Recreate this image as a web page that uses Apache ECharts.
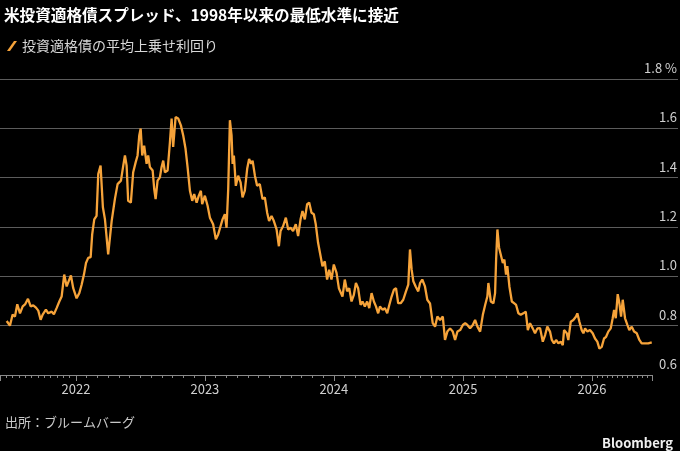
<!DOCTYPE html>
<html>
<head>
<meta charset="utf-8">
<script src="https://cdn.jsdelivr.net/npm/echarts@6/dist/echarts.min.js"></script>
<style>
  html, body { margin: 0; padding: 0; background: #000; }
  #chart { width: 680px; height: 451px; }
</style>
</head>
<body>
<div id="chart"></div>
<script>
// 日付は小数の年 (2022.5 = 2022年の真ん中あたり)
var years = [
  2021.463, 2021.488, 2021.509, 2021.527, 2021.545, 2021.566, 2021.587, 2021.605, 2021.628, 2021.649,
  2021.669, 2021.690, 2021.708, 2021.726, 2021.742, 2021.767, 2021.785, 2021.812, 2021.829, 2021.850,
  2021.871, 2021.889, 2021.909, 2021.928, 2021.940, 2021.961, 2021.979, 2022.005, 2022.026, 2022.044,
  2022.062, 2022.078, 2022.095, 2022.114, 2022.126, 2022.142, 2022.160, 2022.173, 2022.191, 2022.209,
  2022.225, 2022.250, 2022.277, 2022.302, 2022.323, 2022.349, 2022.367, 2022.380, 2022.393, 2022.405,
  2022.426, 2022.444, 2022.463, 2022.478, 2022.491, 2022.502, 2022.514, 2022.529, 2022.548, 2022.560,
  2022.574, 2022.595, 2022.607, 2022.618, 2022.633, 2022.651, 2022.664, 2022.677, 2022.690, 2022.711,
  2022.729, 2022.742, 2022.754, 2022.773, 2022.793, 2022.814, 2022.832, 2022.850, 2022.866, 2022.884,
  2022.902, 2022.917, 2022.936, 2022.953, 2022.969, 2022.979, 2023.000, 2023.021,
  2023.039, 2023.064, 2023.085, 2023.103, 2023.122, 2023.137, 2023.155, 2023.168, 2023.181, 2023.194,
  2023.207, 2023.215, 2023.225, 2023.240, 2023.258, 2023.277, 2023.292, 2023.310, 2023.328, 2023.343,
  2023.359, 2023.370, 2023.388, 2023.405, 2023.426, 2023.447, 2023.465, 2023.483, 2023.498, 2023.517,
  2023.535, 2023.556, 2023.574, 2023.587, 2023.607, 2023.628, 2023.646, 2023.664, 2023.684, 2023.705,
  2023.723, 2023.742, 2023.757, 2023.775, 2023.793, 2023.809, 2023.827, 2023.845, 2023.860, 2023.878,
  2023.891, 2023.912, 2023.930, 2023.948, 2023.964, 2023.982, 2024.000, 2024.021, 2024.039, 2024.054,
  2024.067, 2024.085, 2024.103, 2024.119, 2024.137, 2024.155, 2024.171, 2024.188, 2024.207, 2024.222,
  2024.240, 2024.258, 2024.274, 2024.292, 2024.310, 2024.326, 2024.343, 2024.357, 2024.378, 2024.395,
  2024.413, 2024.429, 2024.447, 2024.465, 2024.481, 2024.498, 2024.517, 2024.537, 2024.558, 2024.576,
  2024.589, 2024.602, 2024.615, 2024.633, 2024.653, 2024.667, 2024.684, 2024.705, 2024.723,
  2024.744, 2024.765, 2024.783, 2024.801, 2024.822, 2024.843, 2024.860, 2024.878, 2024.899, 2024.920,
  2024.938, 2024.956, 2024.977, 2024.998, 2025.016, 2025.033, 2025.054, 2025.075, 2025.093, 2025.111,
  2025.132, 2025.153, 2025.171, 2025.188, 2025.196, 2025.215, 2025.235, 2025.248, 2025.256, 2025.266,
  2025.279, 2025.292, 2025.308, 2025.320, 2025.333, 2025.343, 2025.359, 2025.378, 2025.395, 2025.411,
  2025.429, 2025.447, 2025.467, 2025.486, 2025.502, 2025.519, 2025.540, 2025.558, 2025.576,
  2025.597, 2025.618, 2025.636, 2025.653, 2025.674, 2025.688, 2025.705, 2025.721, 2025.739, 2025.757,
  2025.773, 2025.783, 2025.804, 2025.816, 2025.835, 2025.855, 2025.876, 2025.886, 2025.902, 2025.920,
  2025.933, 2025.946, 2025.964, 2025.984, 2026.005, 2026.023, 2026.041, 2026.057, 2026.075, 2026.093,
  2026.109, 2026.126, 2026.145, 2026.160, 2026.171, 2026.184, 2026.199, 2026.212, 2026.225, 2026.238,
  2026.256, 2026.274, 2026.289, 2026.308, 2026.326, 2026.347, 2026.367, 2026.385, 2026.411, 2026.436,
  2026.463
]
// 投資適格債の平均上乗せ利回り (%)
var spread = [
  0.819, 0.800, 0.845, 0.837, 0.887, 0.850, 0.878, 0.886, 0.909, 0.878,
  0.882, 0.873, 0.861, 0.824, 0.845, 0.865, 0.850, 0.857, 0.846, 0.871,
  0.898, 0.918, 1.007, 0.959, 0.952, 1.004, 0.952, 0.911, 0.932, 0.966,
  1.007, 1.054, 1.075, 1.078, 1.170, 1.231, 1.245, 1.415, 1.449, 1.280,
  1.231, 1.089, 1.224, 1.313, 1.374, 1.388, 1.449, 1.490, 1.449, 1.306,
  1.299, 1.422, 1.462, 1.490, 1.571, 1.599, 1.490, 1.530, 1.456, 1.490,
  1.442, 1.429, 1.354, 1.313, 1.388, 1.401, 1.442, 1.469, 1.422, 1.429,
  1.544, 1.640, 1.525, 1.646, 1.640, 1.612, 1.571, 1.517, 1.442, 1.347,
  1.306, 1.333, 1.299, 1.327, 1.347, 1.293, 1.327, 1.286,
  1.238, 1.211, 1.150, 1.170, 1.204, 1.231, 1.252, 1.197, 1.354, 1.633,
  1.571, 1.456, 1.490, 1.367, 1.408, 1.381, 1.320, 1.347, 1.436, 1.476,
  1.456, 1.469, 1.408, 1.367, 1.374, 1.313, 1.320, 1.258, 1.224, 1.245,
  1.224, 1.190, 1.122, 1.184, 1.204, 1.238, 1.190, 1.197, 1.184, 1.211,
  1.163, 1.231, 1.265, 1.231, 1.293, 1.299, 1.258, 1.252, 1.211, 1.136,
  1.129, 1.041, 1.061, 0.987, 1.027, 0.987, 1.048, 1.014, 0.952, 0.959,
  0.918, 0.987, 0.939, 0.952, 0.898, 0.925, 0.973, 0.952, 0.884, 0.898,
  0.878, 0.898, 0.871, 0.932, 0.898, 0.878, 0.850, 0.878, 0.864, 0.871,
  0.850, 0.884, 0.918, 0.946, 0.952, 0.891, 0.891, 0.905, 0.939, 0.966,
  1.109, 1.027, 0.980, 0.959, 0.939, 0.973, 0.987, 0.959, 0.905,
  0.890, 0.810, 0.796, 0.837, 0.823, 0.837, 0.742, 0.776, 0.789, 0.776,
  0.742, 0.776, 0.782, 0.803, 0.810, 0.803, 0.789, 0.803, 0.823, 0.796,
  0.776, 0.844, 0.884, 0.918, 0.973, 0.898, 0.891, 0.932, 1.068, 1.190,
  1.116, 1.109, 1.054, 1.068, 1.007, 1.041, 0.959, 0.898, 0.891, 0.884,
  0.850, 0.844, 0.850, 0.857, 0.782, 0.810, 0.789, 0.769, 0.789,
  0.790, 0.735, 0.762, 0.796, 0.776, 0.742, 0.728, 0.742, 0.728, 0.735,
  0.721, 0.782, 0.769, 0.742, 0.816, 0.823, 0.837, 0.850, 0.816, 0.782,
  0.769, 0.789, 0.776, 0.782, 0.769, 0.748, 0.735, 0.707, 0.714, 0.748,
  0.755, 0.776, 0.789, 0.830, 0.864, 0.830, 0.928, 0.891, 0.837, 0.905,
  0.830, 0.803, 0.782, 0.796, 0.776, 0.769, 0.742, 0.728, 0.728, 0.728,
  0.732
]
var axisStart = 2021.411
var axisEnd = 2026.465
var yMin = 0.6
var yMax = 1.8
var yStep = 0.2

var seriesName = '投資適格債の平均上乗せ利回り'
var titleText = '米投資適格債スプレッド、1998年以来の最低水準に接近'
var sourceText = '出所：ブルームバーグ'

function yearToTime(d){
    var y = Math.floor(d)
    var t0 = Date.UTC(y, 0, 1)
    var t1 = Date.UTC(y + 1, 0, 1)
    return t0 + (d - y) * (t1 - t0)
}

var lineData = []
for (var i = 0; i < years.length; i++){
    lineData.push([yearToTime(years[i]), spread[i]])
}

var chartDom = document.getElementById('chart')
var myChart = echarts.init(chartDom)
var font = '"Noto Sans CJK JP", "Noto Sans", sans-serif'
var orange = '#f6a33a'
var option = {
    backgroundColor: '#000',
    animation: false,
    textStyle: { fontFamily: font },
    title: [
        {
            text: titleText, left: -1, top: 2,
            textStyle: { color: '#fff', fontSize: 15.6, fontWeight: 'bold', fontFamily: font }
        },
        {
            text: sourceText, left: 0, top: 411,
            textStyle: { color: '#c8c8c8', fontSize: 13, fontWeight: 'normal', fontFamily: font }
        },
        {
            text: 'Bloomberg', right: 2, top: 432,
            textStyle: { color: '#f0f0f0', fontSize: 13, fontWeight: 'bold', fontFamily: font }
        }
    ],
    legend: {
        data: [seriesName],
        left: 2, top: 34,
        icon: 'path://M0,10 L7,0 L10,0 L3,10 Z',
        itemWidth: 10, itemHeight: 11,
        itemGap: 6,
        textStyle: { color: '#d8d8d8', fontSize: 14, fontFamily: font },
        itemStyle: { color: orange }
    },
    grid: [
        { left: 0, right: 28, top: 79, bottom: 76 },
        { left: 0, right: 2, top: 79, bottom: 76 }
    ],
    xAxis: [
        {
            type: 'time',
            gridIndex: 0,
            min: yearToTime(axisStart),
            max: yearToTime(axisEnd),
            minInterval: 365 * 24 * 3600 * 1000,
            axisLine: { show: true, lineStyle: { color: '#8a8a8a', width: 1 } },
            axisTick: { show: true, length: 6, lineStyle: { color: '#8a8a8a' } },
            minorTick: { show: true, splitNumber: 12, length: 3, lineStyle: { color: '#8a8a8a' } },
            splitLine: { show: false },
            axisLabel: {
                color: '#d0d0d0', fontSize: 13, margin: 8,
                formatter: '{yyyy}'
            }
        },
        { type: 'value', gridIndex: 1, show: false, min: 0, max: 1 }
    ],
    yAxis: [
        {
            type: 'value', gridIndex: 0,
            min: yMin, max: yMax, interval: yStep,
            show: false
        },
        {
            type: 'value', gridIndex: 1,
            min: yMin, max: yMax, interval: yStep,
            position: 'right',
            axisLine: { show: false },
            axisTick: { show: false },
            splitLine: { show: true, showMinLine: false, lineStyle: { color: '#5c5c5c', width: 1 } },
            axisLabel: {
                inside: true, margin: 1,
                showMinLabel: true, showMaxLabel: true,
                color: '#d0d0d0', fontSize: 13,
                verticalAlign: 'bottom', lineHeight: 16, padding: [0, 0, 3, 0],
                formatter: function (v) {
                    var s = v.toFixed(1)
                    if (Math.abs(v - yMax) < 1e-6) s += ' %'
                    return s
                }
            }
        }
    ],
    series: [
        {
            name: seriesName,
            type: 'line',
            xAxisIndex: 0, yAxisIndex: 0,
            data: lineData,
            showSymbol: false,
            lineStyle: { color: orange, width: 2.3 },
            itemStyle: { color: orange }
        }
    ]
}
option && myChart.setOption(option)
</script>
</body>
</html>
